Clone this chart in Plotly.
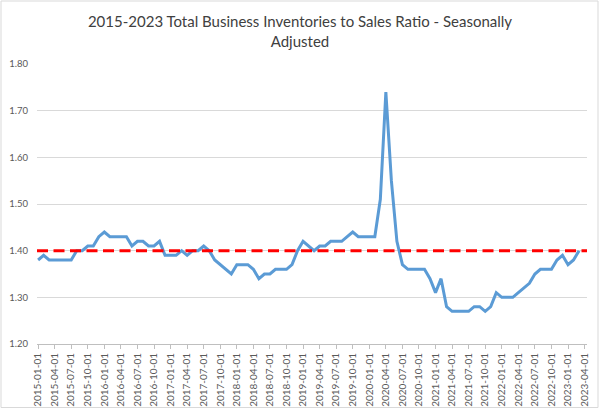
import pandas as pd
import plotly.graph_objects as go

# Monthly categories on the x axis (2015-01 .. 2023-04)
months = pd.date_range("2015-01-01", "2023-04-01", freq="MS").strftime("%Y-%m-%d").tolist()

# Total business inventories to sales ratio (seasonally adjusted)
ratio_2015 = [1.38, 1.39, 1.38, 1.38, 1.38, 1.38, 1.38, 1.40, 1.40, 1.41, 1.41, 1.43]
ratio_2016 = [1.44, 1.43, 1.43, 1.43, 1.43, 1.41, 1.42, 1.42, 1.41, 1.41, 1.42, 1.39]
ratio_2017 = [1.39, 1.39, 1.40, 1.39, 1.40, 1.40, 1.41, 1.40, 1.38, 1.37, 1.36, 1.35]
ratio_2018 = [1.37, 1.37, 1.37, 1.36, 1.34, 1.35, 1.35, 1.36, 1.36, 1.36, 1.37, 1.40]
ratio_2019 = [1.42, 1.41, 1.40, 1.41, 1.41, 1.42, 1.42, 1.42, 1.43, 1.44, 1.43, 1.43]
ratio_2020 = [1.43, 1.43, 1.51, 1.74, 1.55, 1.42, 1.37, 1.36, 1.36, 1.36, 1.36, 1.34]
ratio_2021 = [1.31, 1.34, 1.28, 1.27, 1.27, 1.27, 1.27, 1.28, 1.28, 1.27, 1.28, 1.31]
ratio_2022 = [1.30, 1.30, 1.30, 1.31, 1.32, 1.33, 1.35, 1.36, 1.36, 1.36, 1.38, 1.39]
ratio_2023 = [1.37, 1.38, 1.40]

ratio = (ratio_2015 + ratio_2016 + ratio_2017 + ratio_2018 + ratio_2019
         + ratio_2020 + ratio_2021 + ratio_2022 + ratio_2023)

reference_level = 1.40
tick_labels = months[::3]

FONT = "Lato"
W, H = 600, 409
ML, MR, MT, MB = 37, 13, 64, 65
PW, PH = W - ML - MR, H - MT - MB

fig = go.Figure()
fig.add_trace(go.Scatter(
    x=months[:len(ratio)], y=ratio, mode="lines",
    line=dict(color="#5B9BD5", width=3),
    hoverinfo="x+y", showlegend=False,
))

# red dashed reference line across the plot area
fig.add_shape(type="line", xref="paper", yref="y", x0=0, x1=1,
              y0=reference_level, y1=reference_level,
              line=dict(color="#FF0000", width=3, dash="11px,5.5px"))

# chart frame
fig.add_shape(type="rect", xref="paper", yref="paper",
              x0=(-ML + 1) / PW, x1=(W - ML - 2) / PW,
              y0=(-MB + 1.5) / PH, y1=(H - MB - 1) / PH,
              line=dict(color="#D9D9D9", width=1), layer="below")

fig.update_layout(
    width=W, height=H,
    margin=dict(l=ML, r=MR, t=MT, b=MB, autoexpand=False),
    paper_bgcolor="white", plot_bgcolor="white",
    font=dict(family=FONT, color="#595959"),
    title=dict(
        text="2015-2023 Total Business Inventories to Sales Ratio - Seasonally<br>Adjusted",
        x=0.5, xref="container", xanchor="center",
        y=1 - 27 / H, yref="container", yanchor="top",
        font=dict(family=FONT, size=15, color="#404040"),
    ),
    xaxis=dict(
        type="category",
        categoryorder="array", categoryarray=months,
        range=[-0.2, 99.44],
        tickmode="array", tickvals=tick_labels, ticktext=tick_labels,
        tickangle=-90,
        tickfont=dict(family=FONT, size=10, color="#595959"),
        ticks="outside", ticklen=4, tickcolor="#BFBFBF",
        showgrid=False, zeroline=False,
        showline=True, linecolor="#BFBFBF", linewidth=1,
    ),
    yaxis=dict(
        range=[1.20, 1.80], dtick=0.1, tick0=1.20,
        tickformat=".2f",
        tickfont=dict(family=FONT, size=9.5, color="#595959"),
        showgrid=True, gridcolor="#D9D9D9", gridwidth=1,
        zeroline=False, showline=False, ticks="",
        ticklabelstandoff=8,
    ),
)

fig.write_html("out.html", config={"displayModeBar": False},
               post_script="document.body.style.margin='0';")
